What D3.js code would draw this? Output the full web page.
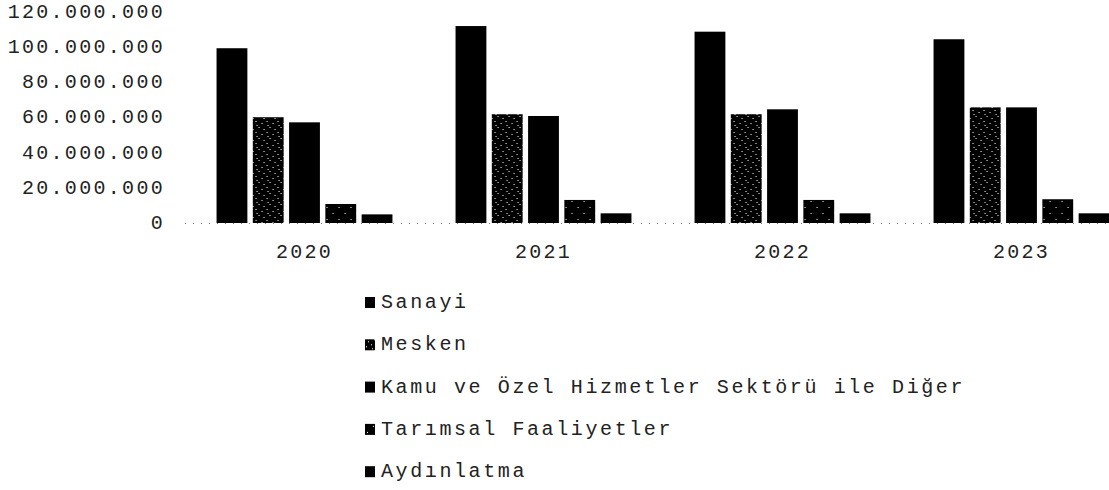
<!DOCTYPE html>
<html>
<head>
<meta charset="utf-8">
<script src="https://cdn.jsdelivr.net/npm/d3@7"></script>
<style>
  body { margin: 0; background: #fff; }
  svg text { font-family: "Courier New", "Liberation Mono", monospace; fill: #222; }
</style>
</head>
<body>
<svg id="chart" width="1109" height="490"></svg>
<script>
// data (values in kWh or similar, no unit shown)
var years = ["2020", "2021", "2022", "2023"];
var seriesNames = ["Sanayi", "Mesken", "Kamu ve Özel Hizmetler Sektörü ile Diğer", "Tarımsal Faaliyetler", "Aydınlatma"];
var sanayi     = [99300000, 111900000, 108700000, 104400000];
var mesken     = [60100000, 61800000, 61800000, 65700000];
var kamu       = [57200000, 60800000, 64600000, 65700000];
var tarimsal   = [10800000, 13100000, 13100000, 13500000];
var aydinlatma = [4900000, 5500000, 5500000, 5500000];
var yTicks = [0, 20000000, 40000000, 60000000, 80000000, 100000000, 120000000];

var seriesValues = [sanayi, mesken, kamu, tarimsal, aydinlatma];
// solid black or speckled black, like the scanned print
var fills = ["#000", "url(#speckA)", "#000", "url(#speckB)", "#000"];

var svg = d3.select("#chart");

// speckle patterns
var defs = svg.append("defs");
function speckle(id, size, dots) {
    var p = defs.append("pattern").attr("id", id)
        .attr("patternUnits", "userSpaceOnUse")
        .attr("width", size).attr("height", size);
    p.append("rect").attr("width", size).attr("height", size).attr("fill", "#000");
    dots.forEach(function (d) {
        p.append("rect").attr("x", d[0]).attr("y", d[1])
            .attr("width", 1).attr("height", 1).attr("fill", "#fff");
    });
}
speckle("speckA", 11, [[1, 2], [6, 0], [9, 6], [3, 8], [7, 4]]);
speckle("speckB", 12, [[2, 3], [8, 9]]);

var x0 = d3.scaleBand().domain(years)
    .range([185, 1141])
    .paddingInner(0.264).paddingOuter(0.132);
var x1 = d3.scaleBand().domain(d3.range(seriesNames.length))
    .range([0, x0.bandwidth()])
    .paddingInner(0.15);
var y = d3.scaleLinear().domain([0, 120000000]).range([223, 11.8]);

var fmt = function (v) {
    return d3.format(",")(v).replace(/,/g, ".");
};

// y labels
svg.append("g").selectAll("text")
    .data(yTicks).enter().append("text")
    .attr("x", 165).attr("y", d => y(d) + 6)
    .attr("text-anchor", "end")
    .attr("font-size", 20).attr("letter-spacing", 2.3)
    .text(fmt);

// dotted baseline
svg.append("line")
    .attr("x1", 185).attr("x2", 1141)
    .attr("y1", y(0) + 0.5).attr("y2", y(0) + 0.5)
    .attr("stroke", "#777").attr("stroke-width", 1)
    .attr("stroke-dasharray", "1,7");

// bars
var groups = svg.append("g").selectAll("g")
    .data(years).enter().append("g")
    .attr("transform", d => "translate(" + x0(d) + ",0)");

groups.selectAll("rect")
    .data((yr, i) => seriesValues.map((vals, s) => ({ s: s, v: vals[i] })))
    .enter().append("rect")
    .attr("x", d => x1(d.s))
    .attr("width", x1.bandwidth())
    .attr("y", d => y(d.v))
    .attr("height", d => y(0) - y(d.v))
    .attr("fill", d => fills[d.s]);

// year labels
svg.append("g").selectAll("text")
    .data(years).enter().append("text")
    .attr("x", d => x0(d) + x0.bandwidth() / 2)
    .attr("y", 258)
    .attr("text-anchor", "middle")
    .attr("font-size", 20).attr("letter-spacing", 2.3)
    .text(d => d);

// legend
var legend = svg.append("g").selectAll("g")
    .data(seriesNames).enter().append("g")
    .attr("transform", (d, i) => "translate(365," + (302 + i * 42.3) + ")");

legend.append("rect")
    .attr("x", 0).attr("y", -5)
    .attr("width", 10).attr("height", 11)
    .attr("fill", (d, i) => fills[i]);

legend.append("text")
    .attr("x", 16).attr("y", 6)
    .attr("font-size", 20).attr("letter-spacing", 2.6)
    .text(d => d);
</script>
</body>
</html>
